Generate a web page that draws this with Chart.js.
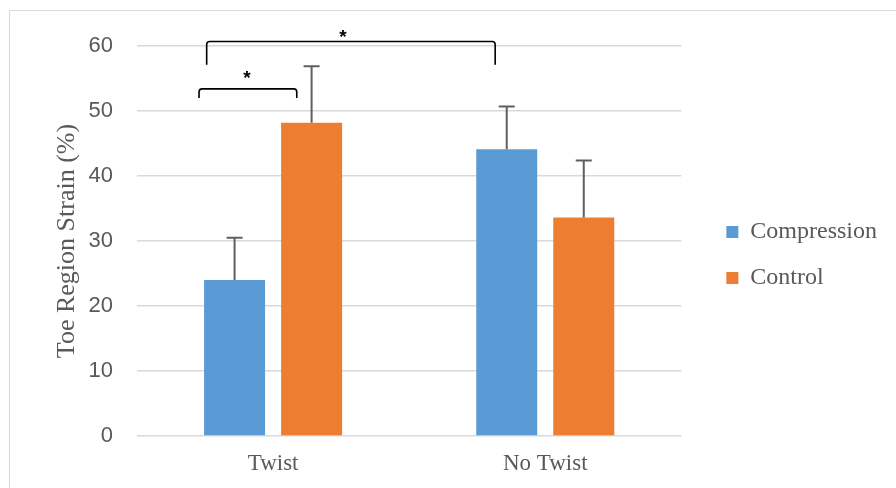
<!DOCTYPE html>
<html>
<head>
<meta charset="utf-8">
<script src="https://cdn.jsdelivr.net/npm/chart.js@4/dist/chart.umd.min.js"></script>
<style>
  body { margin: 0; overflow: hidden; background: #fff; }
  #frame { position: absolute; left: 9px; top: 10px; width: 900px; height: 500px; border: 1px solid #d9d9d9; }
  #wrap { position: absolute; left: 0; top: 0; width: 896px; height: 488px; }
</style>
</head>
<body>
<div id="frame"></div>
<div id="wrap"><canvas id="graph" width="896" height="488"></canvas></div>
<script>
var categories = ["Twist", "No Twist"]
var compression = [24.0, 44.1]
var control = [48.2, 33.6]
var compressionErr = [6.5, 6.6]
var controlErr = [8.7, 8.8]
var yTicks = [0, 10, 20, 30, 40, 50, 60]

// significance brackets: x in category units, y in data units
var bracketFrom = [-0.272, -0.244]
var bracketTo = [0.087, 0.816]
var bracketTop = [53.4, 60.7]
var bracketLeg = [52.0, 57.1]
var starX = [-0.096, 0.257]
var starY = [55.6, 61.9]

var serif = "'Liberation Serif', 'Times New Roman', serif"
var sans = "'Liberation Sans', Arial, sans-serif"

var errorBars = {
    id: "errorBars",
    afterDatasetsDraw: function (chart) {
        var c = chart.ctx
        var y = chart.scales.y
        var errs = [compressionErr, controlErr]
        c.save()
        c.strokeStyle = "#5f5f5f"
        c.lineWidth = 2
        chart.data.datasets.forEach(function (ds, d) {
            var meta = chart.getDatasetMeta(d)
            meta.data.forEach(function (bar, i) {
                var top = y.getPixelForValue(ds.data[i] + errs[d][i])
                c.beginPath()
                c.moveTo(bar.x, bar.y)
                c.lineTo(bar.x, top)
                c.moveTo(bar.x - 8, top)
                c.lineTo(bar.x + 8, top)
                c.stroke()
            })
        })
        c.restore()
    }
}

var brackets = {
    id: "brackets",
    afterDraw: function (chart) {
        var c = chart.ctx
        var x = chart.scales.x
        var y = chart.scales.y
        c.save()
        c.strokeStyle = "#000"
        c.lineWidth = 1.6
        c.lineJoin = "round"
        c.fillStyle = "#000"
        c.font = "bold 19px " + sans
        c.textAlign = "center"
        c.textBaseline = "middle"
        for (var i = 0; i < bracketFrom.length; i++) {
            var x1 = x.getPixelForValue(bracketFrom[i])
            var x2 = x.getPixelForValue(bracketTo[i])
            var yt = y.getPixelForValue(bracketTop[i])
            var yl = y.getPixelForValue(bracketLeg[i])
            var r = 3
            c.beginPath()
            c.moveTo(x1, yl)
            c.lineTo(x1, yt + r)
            c.quadraticCurveTo(x1, yt, x1 + r, yt)
            c.lineTo(x2 - r, yt)
            c.quadraticCurveTo(x2, yt, x2, yt + r)
            c.lineTo(x2, yl)
            c.stroke()
            c.fillText("*", x.getPixelForValue(starX[i]), y.getPixelForValue(starY[i]) + 4)
        }
        c.restore()
    }
}

var ctx = document.getElementById("graph").getContext("2d")

var graph = new Chart(ctx, {
    type: "bar",
    data: {
        labels: categories,
        datasets: [{
            label: "Compression",
            data: compression,
            backgroundColor: "#5B9BD5"
        }, {
            label: "Control",
            data: control,
            backgroundColor: "#ED7D31"
        }]
    },
    options: {
        responsive: false,
        animation: false,
        datasets: { bar: { categoryPercentage: 0.566, barPercentage: 0.792 } },
        layout: { padding: { top: 22, left: 0, right: 9, bottom: 0 } },
        plugins: {
            tooltip: { enabled: false },
            legend: {
                position: "right",
                labels: {
                    font: { family: serif, size: 24 },
                    color: "#595959",
                    boxWidth: 12,
                    boxHeight: 12,
                    padding: 22
                }
            }
        },
        scales: {
            x: {
                grid: { display: false, drawTicks: false },
                border: { display: false },
                afterFit: function (axis) { axis.height = 52 },
                ticks: { font: { family: serif, size: 23 }, color: "#595959", padding: 14 }
            },
            y: {
                min: 0,
                max: 60,
                afterBuildTicks: function (axis) {
                    axis.ticks = yTicks.map(function (v) { return { value: v } })
                },
                afterFit: function (axis) { axis.width = 137 },
                grid: { color: "#d9d9d9", lineWidth: 1.5, drawTicks: false },
                border: { display: false },
                ticks: { font: { family: sans, size: 22 }, color: "#595959", padding: 24 },
                title: {
                    display: true,
                    text: "Toe Region Strain (%)",
                    font: { family: serif, size: 26 },
                    color: "#595959",
                    padding: { top: 52, bottom: 0 }
                }
            },
            gapRight: {
                display: false,
                position: "right",
                afterFit: function (axis) { axis.width = 23 }
            },
            gapTop: {
                display: false,
                position: "top",
                afterFit: function (axis) { axis.height = 24 }
            }
        }
    },
    plugins: [errorBars, brackets]
})
</script>
</body>
</html>
